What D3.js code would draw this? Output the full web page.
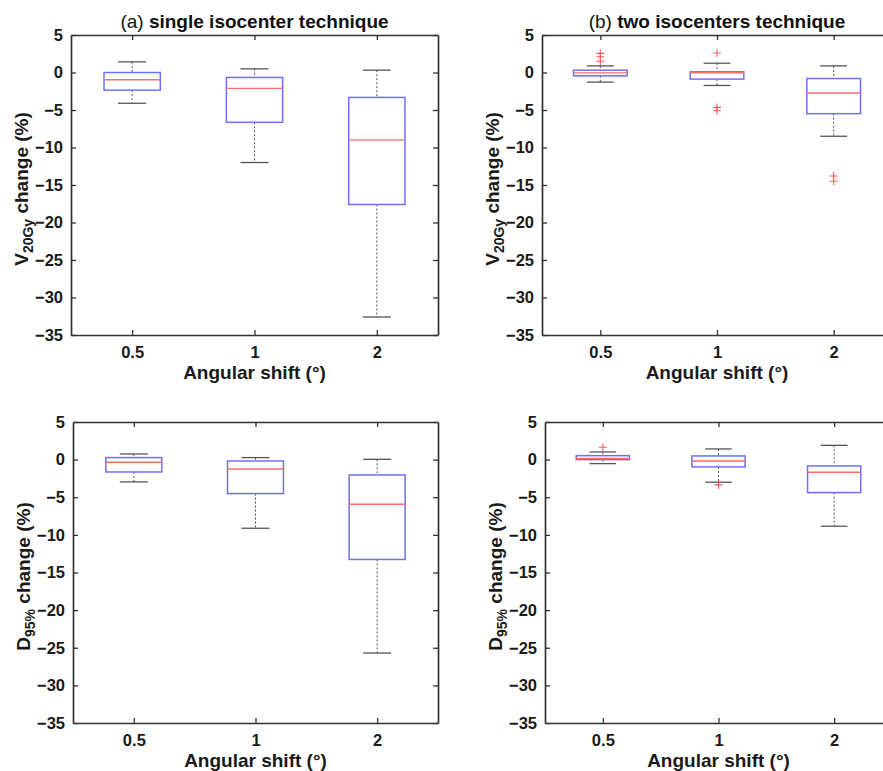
<!DOCTYPE html>
<html>
<head>
<meta charset="utf-8">
<script src="https://cdn.jsdelivr.net/npm/d3@7"></script>
<style>
  body { margin: 0; background: #fff; }
  svg { display: block; font-family: "Liberation Sans", Arial, sans-serif; }
</style>
</head>
<body>
<svg id="chart" width="883" height="771"></svg>
<script>
// categories and tick labels
var shifts = ["0.5", "1", "2"];
var yTicks = [5, 0, -5, -10, -15, -20, -25, -30, -35];

// box stats per shift: [lower whisker, q1, median, q3, upper whisker]
var v20Single = [[-4.1, -2.35, -0.97, 0.0, 1.42], [-12.0, -6.64, -2.12, -0.66, 0.49], [-32.6, -17.6, -8.98, -3.32, 0.31]];
var v20SingleOut = [[], [], []];
var v20Two = [[-1.28, -0.44, -0.05, 0.31, 0.88], [-1.73, -0.88, -0.04, 0.09, 1.24], [-8.5, -5.49, -2.74, -0.8, 0.88]];
var v20TwoOut = [[2.55, 2.1, 1.5], [2.6, -4.65, -5.1], [-13.8, -14.5]];
var d95Single = [[-2.96, -1.64, -0.35, 0.27, 0.75], [-9.12, -4.51, -1.24, -0.18, 0.27], [-25.7, -13.27, -5.93, -2.04, 0.04]];
var d95SingleOut = [[], [], []];
var d95Two = [[-0.53, 0.0, 0.17, 0.53, 1.02], [-3.0, -0.97, -0.18, 0.49, 1.42], [-8.85, -4.38, -1.68, -0.84, 1.9]];
var d95TwoOut = [[1.64], [-3.36], []];

var svg = d3.select("#chart");

// panel layout
var panels = [
  {left: 71, right: 438, top: 35, bottom: 335, stats: v20Single, out: v20SingleOut, tag: "(a)", title: " single isocenter technique", ylab: "V", ysub: "20Gy"},
  {left: 542, right: 892, top: 35, bottom: 335, stats: v20Two, out: v20TwoOut, tag: "(b)", title: " two isocenters technique", ylab: "V", ysub: "20Gy"},
  {left: 73, right: 438, top: 422, bottom: 723, stats: d95Single, out: d95SingleOut, tag: null, ylab: "D", ysub: "95%"},
  {left: 545, right: 892, top: 422, bottom: 723, stats: d95Two, out: d95TwoOut, tag: null, ylab: "D", ysub: "95%"}
];

var axisColor = "#333";

panels.forEach(function(p) {
  var x = d3.scaleLinear().domain([0.5, 3.5]).range([p.left, p.right]);
  var y = d3.scaleLinear().domain([-35, 5]).range([p.bottom, p.top]);
  var unit = x(1) - x(0);
  var boxW = unit * 0.46;
  var capW = boxW / 2;
  var pos = shifts.map(function(d, i) { return i + 1; });

  var g = svg.append("g");

  // axes, ticks pointing inward
  g.append("g")
    .attr("transform", "translate(0," + p.bottom + ")")
    .call(d3.axisBottom(x).tickValues(pos).tickFormat(function(d) { return shifts[d - 1]; })
      .tickSizeInner(-5).tickSizeOuter(0).tickPadding(11));
  g.append("g")
    .attr("transform", "translate(0," + p.top + ")")
    .call(d3.axisTop(x).tickValues(pos).tickFormat("").tickSizeInner(-5).tickSizeOuter(0));
  g.append("g")
    .attr("transform", "translate(" + p.left + ",0)")
    .call(d3.axisLeft(y).tickValues(yTicks).tickSizeInner(-5).tickSizeOuter(0).tickPadding(8));
  g.append("g")
    .attr("transform", "translate(" + p.right + ",0)")
    .call(d3.axisRight(y).tickValues(yTicks).tickFormat("").tickSizeInner(-5).tickSizeOuter(0));

  g.selectAll(".domain").attr("stroke", axisColor).attr("stroke-width", 1.7);
  g.selectAll(".tick line").attr("stroke", axisColor).attr("stroke-width", 1.3);
  g.selectAll(".tick text")
    .attr("fill", "#1a1a1a")
    .style("font-size", "16.5px")
    .style("font-weight", "bold")
    .style("font-family", "'Liberation Sans', Arial, sans-serif");

  // boxes
  var box = g.selectAll(".box")
    .data(p.stats)
    .enter().append("g").attr("class", "box");

  // whiskers (dashed)
  box.append("line")
    .attr("x1", function(d, i) { return x(pos[i]); })
    .attr("x2", function(d, i) { return x(pos[i]); })
    .attr("y1", function(d) { return y(d[4]); })
    .attr("y2", function(d) { return y(d[3]); })
    .attr("stroke", "#555").attr("stroke-width", 1).attr("stroke-dasharray", "2,2");
  box.append("line")
    .attr("x1", function(d, i) { return x(pos[i]); })
    .attr("x2", function(d, i) { return x(pos[i]); })
    .attr("y1", function(d) { return y(d[1]); })
    .attr("y2", function(d) { return y(d[0]); })
    .attr("stroke", "#555").attr("stroke-width", 1).attr("stroke-dasharray", "2,2");

  // caps
  [0, 4].forEach(function(k) {
    box.append("line")
      .attr("x1", function(d, i) { return x(pos[i]) - capW / 2; })
      .attr("x2", function(d, i) { return x(pos[i]) + capW / 2; })
      .attr("y1", function(d) { return y(d[k]); })
      .attr("y2", function(d) { return y(d[k]); })
      .attr("stroke", "#555").attr("stroke-width", 1.3);
  });

  box.append("rect")
    .attr("x", function(d, i) { return x(pos[i]) - boxW / 2; })
    .attr("y", function(d) { return y(d[3]); })
    .attr("width", boxW)
    .attr("height", function(d) { return y(d[1]) - y(d[3]); })
    .attr("fill", "none")
    .attr("stroke", "#6f6fff").attr("stroke-width", 1.5);

  box.append("line")
    .attr("x1", function(d, i) { return x(pos[i]) - boxW / 2; })
    .attr("x2", function(d, i) { return x(pos[i]) + boxW / 2; })
    .attr("y1", function(d) { return y(d[2]); })
    .attr("y2", function(d) { return y(d[2]); })
    .attr("stroke", "#ff6b6b").attr("stroke-width", 1.4);

  // outliers as red '+'
  var outs = [];
  p.out.forEach(function(arr, i) { arr.forEach(function(v) { outs.push({p: pos[i], v: v}); }); });
  g.selectAll(".out")
    .data(outs)
    .enter().append("path")
    .attr("d", function(d) {
      var cx = x(d.p), cy = y(d.v);
      return "M" + (cx - 4) + "," + cy + "H" + (cx + 4) + "M" + cx + "," + (cy - 4) + "V" + (cy + 4);
    })
    .attr("stroke", "#ff5a5a").attr("stroke-width", 1.1).attr("fill", "none");

  var cx = (p.left + p.right) / 2;

  // title
  if (p.tag) {
    var t = g.append("text")
      .attr("x", cx).attr("y", p.top - 7)
      .attr("text-anchor", "middle")
      .attr("fill", "#111")
      .style("font-size", "19px").style("font-weight", "bold");
    t.append("tspan").style("font-weight", "normal").text(p.tag);
    t.append("tspan").text(p.title);
  }

  // x label
  g.append("text")
    .attr("x", cx).attr("y", p.bottom + 44)
    .attr("text-anchor", "middle")
    .attr("fill", "#1a1a1a")
    .style("font-size", "19px").style("font-weight", "bold")
    .text("Angular shift (\u00b0)");

  // y label with subscript
  var cy = (p.top + p.bottom) / 2;
  var yl = g.append("text")
    .attr("transform", "translate(" + (p.left - 43) + "," + (cy + 4) + ") rotate(-90)")
    .attr("text-anchor", "middle")
    .attr("fill", "#1a1a1a")
    .style("font-size", "19px").style("font-weight", "bold");
  yl.append("tspan").text(p.ylab);
  yl.append("tspan").attr("dy", 5).style("font-size", "14px").text(p.ysub);
  yl.append("tspan").attr("dy", -5).text(" change (%)");
});
</script>
</body>
</html>
